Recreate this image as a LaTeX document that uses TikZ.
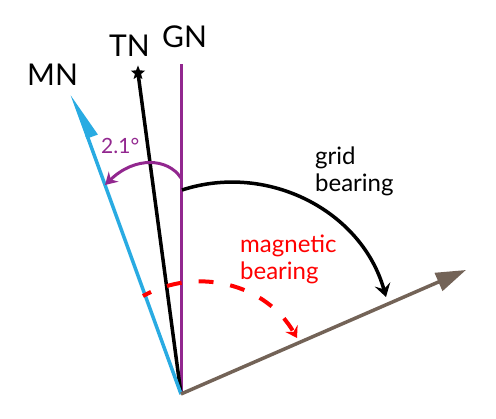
\documentclass[tikz,border=0pt]{standalone}
\usepackage{fontspec}
\setmainfont{Lato}
\usetikzlibrary{arrows.meta, shapes.geometric}

\definecolor{gridpurple}{RGB}{146,39,143}
\definecolor{magblue}{RGB}{41,171,226}
\definecolor{bearbrown}{RGB}{115,99,87}
\definecolor{magred}{RGB}{255,0,0}

\tikzset{
    northlabel/.style={anchor=base west, inner sep=0, font=\fontsize{30}{35}\selectfont},
    arclabel/.style={anchor=north west, inner sep=0, align=left, font=\fontsize{24}{27}\selectfont},
    anglelabel/.style={anchor=base west, inner sep=0, text=gridpurple, font=\fontsize{21}{25}\selectfont},
    gnline/.style={gridpurple, line width=3pt},
    tnline/.style={black, line width=3.5pt},
    mnline/.style={magblue, line width=3.5pt, -{Triangle[right, length=40pt, width=20pt]}},
    bearline/.style={bearbrown, line width=3.5pt, -{Triangle[length=30pt, width=19pt]}}
}

\begin{document}
\begin{tikzpicture}[x=1pt, y=-1pt]
        \useasboundingbox (0,0) rectangle (496,419);

        % Points of the north lines and the bearing line
        \coordinate (origin) at (181,394);
        \coordinate (gn) at (181,64);
        \coordinate (tn) at (138,73);
        \coordinate (mn) at (72,94);
        \coordinate (target) at (466,270);

        % Draw north lines
        \draw[gnline] (origin) -- (gn);
        \draw[tnline] (origin) -- (tn);
        \draw[mnline] (origin) -- (mn);
        \node[star, star points=5, star point ratio=2.3, fill=black, inner sep=0, minimum size=15pt] (tnstar) at (tn) {};

        % Draw bearing line
        \draw[bearline] (origin) -- (target);

        % Draw labels
        \node[northlabel] (mnlabel) at (27,86) {MN};
        \node[northlabel] (tnlabel) at (109,57) {TN};
        \node[northlabel] (gnlabel) at (162,48) {GN};
        \node[anglelabel] (decl) at (101,154) {2.1°};
        \node[arclabel] (gridlabel) at (315,147) {grid\\bearing};
        \node[arclabel, text=magred] (maglabel) at (240,235) {magnetic\\bearing};

        % Draw angle arcs
        \coordinate (declstart) at (181,178);
        \coordinate (declend) at (105,185);
        \draw[gridpurple, line width=3pt, -{Stealth[length=12pt, width=14pt, inset=4pt]}]
            (declstart) .. controls (168,158) and (135,156) .. (declend);

        \coordinate (gridstart) at (182,190);
        \coordinate (gridend) at (386,297);
        \draw[black, line width=3.5pt, -{Stealth[length=13pt, width=16pt, inset=5pt]}]
            (gridstart) .. controls (268,162) and (362,211) .. (gridend);

        \coordinate (magstart) at (143,296);
        \coordinate (magend) at (297,338);
        \draw[magred, line width=4pt, dash pattern=on 15pt off 17pt, dash phase=6pt, -{Stealth[length=11pt, width=14pt, inset=4pt]}]
            (magstart) .. controls (197,266) and (266,284) .. (magend);
    \end{tikzpicture}
\end{document}
